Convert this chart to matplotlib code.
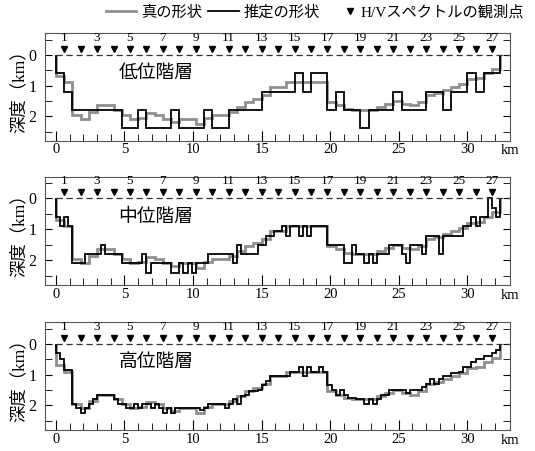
import numpy as np
import matplotlib
matplotlib.use('Agg')
import matplotlib.pyplot as plt
from matplotlib.lines import Line2D
from matplotlib.legend_handler import HandlerLine2D

plt.rcParams['font.family'] = ['Liberation Serif', 'Noto Sans CJK JP']

# observation points (km) and labels
stations = [0.6, 1.8, 3.0, 4.2, 5.4, 6.6, 7.8, 9.0, 10.2, 11.4, 12.6, 13.8, 15.0, 16.2,
            17.4, 18.6, 19.8, 21.0, 22.2, 23.4, 24.6, 25.8, 27.0, 28.2, 29.4, 30.6, 31.8]
station_nums = list(range(1, 28))

# true shape, depth (km) on 0.6 km blocks
true_edges = np.linspace(0, 32.4, 55)
true_depth = [0.7, 0.9, 1.95, 2.1, 1.85, 1.65, 1.65, 1.8, 1.95, 2.1,
              2.05, 1.9, 1.95, 2.1, 2.2, 2.1, 2.1, 2.25, 2.05, 1.95,
              1.95, 1.85, 1.7, 1.55, 1.45, 1.3, 1.05, 1.05, 0.9, 0.9,
              0.9, 0.9, 0.9, 1.55, 1.65, 1.75, 1.8, 1.8, 1.8, 1.7,
              1.6, 1.5, 1.6, 1.65, 1.55, 1.3, 1.25, 1.15, 1.05, 0.95,
              0.8, 0.75, 0.6, 0.45]

# estimated shape - low level
low_edges = [0, 0.6, 1.2, 4.8, 6.0, 6.6, 8.4, 9.0, 10.8, 11.4, 12.6, 15.0, 17.4, 18.0,
             18.6, 19.8, 20.4, 21.0, 22.2, 22.8, 24.6, 25.2, 27.0, 28.2, 28.8, 30.0,
             30.6, 31.2, 32.4]
low_depth = [0.6, 1.2, 1.8, 2.4, 1.8, 2.4, 1.8, 2.4, 1.8, 2.4, 1.8, 1.2, 0.6, 1.2,
             0.6, 1.8, 1.2, 1.8, 2.4, 1.8, 1.2, 1.8, 1.2, 1.8, 1.2, 0.6, 1.2, 0.6]

# estimated shape - mid level
mid_edges = [0, 0.3, 0.6, 0.9, 1.2, 2.1, 3.3, 3.6, 4.8, 6.3, 6.6, 6.9, 8.4, 9.0, 9.3,
             9.6, 9.9, 10.2, 11.1, 12.9, 13.2, 13.5, 14.7, 15.3, 15.9, 16.5, 16.8, 17.1,
             17.7, 18.0, 18.3, 18.6, 19.8, 21.0, 21.6, 21.9, 22.5, 22.8, 23.1, 23.4, 24.3,
             25.2, 25.5, 25.8, 26.7, 27.0, 27.9, 28.2, 29.7, 30.3, 30.6, 30.9, 31.5, 31.8,
             32.1, 32.4]
mid_depth = [0.6, 0.9, 0.6, 0.9, 2.1, 1.8, 1.5, 1.8, 2.1, 1.8, 2.4, 2.1, 2.4, 2.1, 2.4,
             2.1, 2.4, 2.1, 1.8, 2.1, 1.5, 1.8, 1.5, 1.2, 1.05, 0.9, 1.2, 0.9, 1.2, 0.9,
             1.2, 0.9, 1.5, 2.1, 1.5, 1.8, 2.1, 1.8, 2.1, 1.8, 1.5, 1.8, 2.1, 1.5, 1.8,
             1.2, 1.8, 1.2, 0.9, 0.6, 0.9, 0.6, 0.0, 0.3, 0.6]

# estimated shape - high level, 0.3 km blocks
high_edges = np.linspace(0, 32.4, 109)
high_depth = [0.3, 0.5, 0.85, 0.85, 1.95, 2.1, 2.25, 2.1, 1.95, 1.8, 1.65, 1.65,
              1.65, 1.65, 1.8, 1.95, 1.95, 2.1, 2.1, 1.95, 2.1, 1.95, 1.95, 2.1,
              1.95, 2.1, 2.25, 2.1, 2.25, 2.1, 2.1, 2.1, 2.1, 2.1, 2.1, 2.15,
              2.1, 1.95, 1.95, 1.95, 1.95, 2.1, 1.95, 1.8, 1.95, 1.7, 1.65, 1.55,
              1.55, 1.5, 1.35, 1.2, 1.05, 1.05, 1.05, 1.05, 1.05, 0.9, 0.9, 0.75,
              1.05, 0.75, 0.9, 0.9, 0.75, 0.9, 1.35, 1.5, 1.65, 1.5, 1.65, 1.75,
              1.75, 1.8, 1.8, 1.95, 1.8, 1.95, 1.8, 1.65, 1.65, 1.5, 1.5, 1.5,
              1.5, 1.6, 1.5, 1.5, 1.5, 1.4, 1.3, 1.15, 1.3, 1.15, 1.05, 1.05,
              0.95, 0.95, 0.9, 0.75, 0.75, 0.6, 0.5, 0.5, 0.4, 0.4, 0.3, 0.2]

panels = [('低位階層', low_edges, low_depth),
          ('中位階層', mid_edges, mid_depth),
          ('高位階層', high_edges, high_depth)]


class RightMarker(HandlerLine2D):
    # put the triangle near the text instead of mid-handle
    def get_xdata(self, legend, xdescent, ydescent, width, height, fontsize):
        xd = np.array([-xdescent + 0.8 * width])
        return xd, xd


gray = '#8f8f8f'
fig = plt.figure(figsize=(5.35, 4.51), dpi=100)
boxes = [[0.084, 0.688, 0.869, 0.238],
         [0.084, 0.368, 0.869, 0.240],
         [0.084, 0.047, 0.869, 0.238]]

for (name, edges, depth), box in zip(panels, boxes):
    ax = fig.add_axes(box)
    ax.stairs(true_depth, true_edges, baseline=0, color=gray, lw=2.0)
    ax.stairs(depth, edges, baseline=0, color='black', lw=1.3)
    ax.plot([0, 33.1], [0, 0], color='#333333', lw=0.9, ls=(0, (5, 3)))
    ax.plot(stations, [-0.2] * len(stations), 'v', color='black', ms=5)
    for s, n in zip(stations, station_nums):
        if n % 2 == 1:
            ax.text(s, -0.36, str(n), ha='center', va='bottom', fontsize=9.5)
    ax.text(7.3, 0.62, name, ha='center', va='center', fontsize=13.5)
    ax.set_xlim(-0.8, 33.1)
    ax.set_ylim(2.8, -0.7)
    ax.set_xticks([0, 5, 10, 15, 20, 25, 30])
    ax.set_xticks(range(0, 33), minor=True)
    ax.set_yticks([0, 1, 2])
    ax.set_yticks([-0.5, 0.5, 1.5, 2.5], minor=True)
    ax.tick_params(axis='x', which='both', direction='in', top=False, labelsize=10.5, pad=2)
    ax.tick_params(axis='x', which='major', length=7)
    ax.tick_params(axis='x', which='minor', length=5)
    ax.tick_params(axis='y', which='both', direction='in', right=True, labelsize=11.5,
                   length=5, pad=6)
    ax.text(1.0, -0.035, 'km', transform=ax.transAxes, ha='center', va='top', fontsize=10.5)
    ax.set_ylabel('深度（km）', fontsize=12.5, labelpad=1)
    for sp in ax.spines.values():
        sp.set_color('#555555')

handles = [Line2D([], [], color=gray, lw=2.0),
           Line2D([], [], color='black', lw=1.3)]
tri = Line2D([], [], color='black', marker='v', ls='none', ms=5)
fig.legend(handles + [tri], ['真の形状', '推定の形状', 'H/Vスペクトルの観測点'],
           handler_map={tri: RightMarker(numpoints=1)},
           loc='upper right', bbox_to_anchor=(1.0, 1.012), ncol=3, frameon=False,
           fontsize=11, handlelength=2.0, handletextpad=0.3, columnspacing=0.4,
           borderpad=0.2)

fig.savefig('out.png', dpi=100)
